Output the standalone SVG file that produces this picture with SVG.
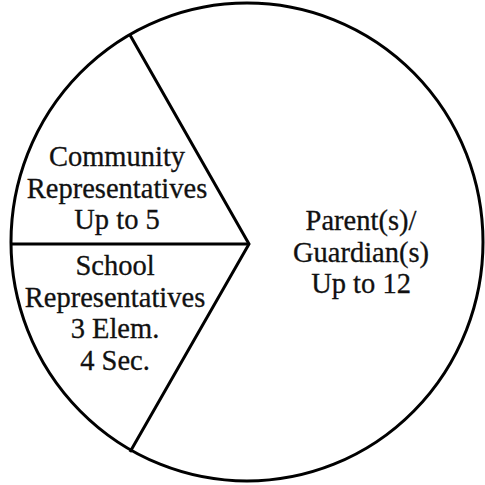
<svg xmlns="http://www.w3.org/2000/svg" width="485" height="485" viewBox="0 0 485 485">
<style>
.ln{fill:none;stroke:#000;stroke-width:3}
.t{font-family:"Liberation Serif","Times New Roman",serif;font-size:28.5px;fill:#111;stroke:#111;stroke-width:0.3;text-anchor:middle}
</style>
<rect width="485" height="485" fill="#fff"/>
<g id="connectors">
<ellipse class="ln" cx="247" cy="242" rx="236" ry="239"/>
<polyline class="ln" points="130,35 249,244 130,452"/>
<line class="ln" x1="11" y1="244" x2="249" y2="244"/>
</g>
<g id="community">
<text class="t" x="117" y="166">Community</text>
<text class="t" x="117" y="197.5">Representatives</text>
<text class="t" x="117" y="229">Up to 5</text>
</g>
<g id="school">
<text class="t" x="115" y="275">School</text>
<text class="t" x="115" y="306.5">Representatives</text>
<text class="t" x="115" y="338">3 Elem.</text>
<text class="t" x="115" y="370">4 Sec.</text>
</g>
<g id="parents">
<text class="t" x="361" y="230">Parent(s)/</text>
<text class="t" x="361" y="262">Guardian(s)</text>
<text class="t" x="361" y="293">Up to 12</text>
</g>
</svg>
